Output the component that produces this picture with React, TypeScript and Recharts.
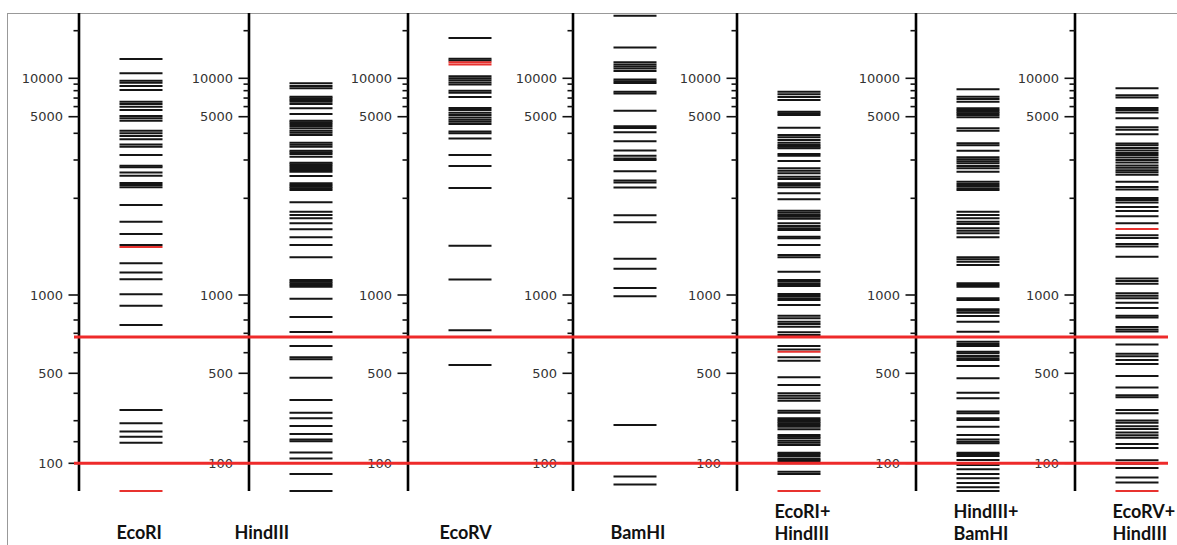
import React from "react";
import { ScatterChart, Scatter, XAxis, YAxis, ReferenceLine } from "recharts";

// Gel calibration (size in bp -> migration distance)
const CAL_BP = [26000, 20000, 10000, 5000, 4000, 3000, 2000, 1000, 900, 800, 700, 600, 500, 400, 300, 200, 100, 50];
const CAL_MIG = [0, 17.7, 65.3, 103.7, 120.3, 147, 185.3, 282, 290.3, 307, 320.3, 339.7, 360.3, 380.3, 407.7, 428.7, 450.3, 478];

const TICK_BP = [20000, 10000, 9000, 8000, 7000, 6000, 5000, 4000, 3000, 2000, 1000, 900, 800, 700, 600, 500, 400, 300, 200, 100];
const LABELED_BP = [10000, 5000, 1000, 500, 100];
const MARKER_BP = [680, 100];

const LANE_NAMES = [["EcoRI"], ["HindIII"], ["EcoRV"], ["BamHI"], ["EcoRI+", "HindIII"], ["HindIII+", "BamHI"], ["EcoRV+", "HindIII"]];

const ECORI = [13250, 10750, 9580, 9240, 8700, 8100, 6560, 6290, 5990, 5640, 5060, 4890, 4740, 4140, 4000, 3885, 3750, 3550, 3460, 3170, 2825, 2780, 2630, 2540, 2350, 2300, 2250, 1906, 1690, 1548, 1430, 1255, 1174, 1119, 1005, 885, 761, 336, 285, 243, 220, 194];
const ECORI_RED = [1410, 50];

const HINDIII = [9137, 8700, 8350, 7175, 6970, 6758, 6557, 6289, 5820, 5250, 4738, 4638, 4532, 4413, 4278, 4143, 4030, 3927, 3614, 3538, 3462, 3316, 3259, 3200, 3109, 2915, 2867, 2815, 2756, 2699, 2650, 2533, 2345, 2303, 2261, 2223, 2184, 1943, 1817, 1774, 1733, 1672, 1601, 1512, 1431, 1310, 1113, 1100, 1087, 1074, 1061, 954, 817, 709, 633, 576, 566, 476, 373, 326, 308, 271, 232, 209, 202, 141, 117, 76.5, 50];
const HINDIII_RED: number[] = [];

const ECORV = [17960, 13280, 12940, 10320, 10010, 9645, 9287, 8956, 7995, 7711, 7149, 5852, 5640, 5368, 5166, 4940, 4803, 4669, 4538, 4098, 4005, 3786, 3166, 2812, 2233, 1423, 1117, 721, 538];
const ECORV_RED = [12620, 12240];

const BAMHI = [25000, 15680, 12620, 12240, 11890, 11540, 11140, 9768, 9473, 9186, 7850, 7614, 5570, 4394, 4296, 4060, 3674, 3323, 3143, 3048, 3003, 2662, 2412, 2366, 2242, 1772, 1686, 1297, 1206, 1052, 985, 276, 72, 59];
const BAMHI_RED: number[] = [];

const ECORI_HINDIII = [7850, 7490, 7134, 6758, 5470, 5315, 5155, 4313, 3927, 3831, 3721, 3615, 3526, 3462, 3403, 3200, 3142, 2968, 2748, 2679, 2606, 2514, 2453, 2344, 2303, 2247, 2109, 1986, 1830, 1804, 1774, 1753, 1728, 1672, 1640, 1613, 1594, 1519, 1502, 1431, 1332, 1310, 1182, 1113, 1100, 1082, 1067, 1007, 987, 959, 938, 889, 825, 810, 786, 768, 748, 707, 691, 633, 615, 576, 559, 478, 439, 400, 390, 380, 370, 333, 326, 308, 302, 294, 285, 276, 267, 254, 228, 220, 214, 204, 194, 180, 140, 135, 126, 117, 111, 105, 100, 81, 76.5];
const ECORI_HINDIII_RED = [605, 50];

const HINDIII_BAMHI = [8198, 7175, 6883, 6557, 5820, 5640, 5470, 5315, 5155, 4960, 4278, 4143, 3591, 3515, 3316, 3088, 3023, 2959, 2897, 2815, 2748, 2650, 2384, 2327, 2278, 2223, 2184, 1817, 1774, 1733, 1691, 1664, 1613, 1586, 1556, 1512, 1310, 1292, 1270, 1240, 1087, 1074, 1061, 959, 938, 863, 854, 842, 823, 786, 711, 655, 643, 633, 605, 597, 583, 571, 562, 533, 473, 403, 380, 330, 324, 308, 302, 267, 228, 209, 200, 190, 140, 135, 126, 111, 96, 86, 76.5, 69, 61, 55, 50];
const HINDIII_BAMHI_RED: number[] = [];

const ECORV_HINDIII = [8364, 7369, 7058, 5852, 5640, 5395, 4893, 4336, 4193, 3957, 3580, 3515, 3410, 3323, 3238, 3166, 3085, 3003, 2919, 2833, 2762, 2693, 2634, 2568, 2384, 2257, 2193, 2009, 1976, 1942, 1880, 1825, 1758, 1673, 1534, 1504, 1442, 1417, 1316, 1126, 1106, 1084, 1012, 990, 959, 906, 871, 825, 814, 746, 728, 713, 641, 595, 581, 563, 543, 485, 427, 392, 384, 336, 324, 301, 288, 269, 255, 239, 226, 216, 186, 163, 110, 99, 89, 70, 62];
const ECORV_HINDIII_RED = [1604, 50];

const LANES = [
  { black: ECORI, red: ECORI_RED },
  { black: HINDIII, red: HINDIII_RED },
  { black: ECORV, red: ECORV_RED },
  { black: BAMHI, red: BAMHI_RED },
  { black: ECORI_HINDIII, red: ECORI_HINDIII_RED },
  { black: HINDIII_BAMHI, red: HINDIII_BAMHI_RED },
  { black: ECORV_HINDIII, red: ECORV_HINDIII_RED },
];

// layout / style
const AXIS_X = [79, 249, 408, 573, 737, 916, 1075];
const LABEL_DX = [0, -52, -6, 0, 0, 0, 0];
const AXIS_W = 70;
const PLOT_W = 124;
const CHART_H = 545;
const TOP = 13;
const XAXIS_H = 54;
const MIG_MAX = 478;
const BAND_W = 43;
const RED = "#e8322f";
const BLACK = "#151515";

function migration(bp: number): number {
  const l = Math.log(bp);
  const n = CAL_BP.length;
  for (let i = 0; i < n - 1; i++) {
    if (bp >= CAL_BP[i + 1] || i === n - 2) {
      const a = Math.log(CAL_BP[i]);
      const b = Math.log(CAL_BP[i + 1]);
      const t = (a - l) / (a - b);
      return CAL_MIG[i] + t * (CAL_MIG[i + 1] - CAL_MIG[i]);
    }
  }
  return 0;
}

const TICK_MIG = TICK_BP.map(migration);

const Band = (props: any) => {
  const { cx, cy, payload } = props;
  if (cx == null || cy == null) return null;
  return (
    <line
      x1={cx - BAND_W / 2}
      x2={cx + BAND_W / 2}
      y1={cy}
      y2={cy}
      stroke={payload.red ? RED : BLACK}
      strokeWidth={2}
    />
  );
};

const Nothing = () => null;

const GelTick = (props: any) => {
  const { x, y, payload } = props;
  const idx = TICK_MIG.findIndex((m) => Math.abs(m - payload.value) < 1e-6);
  const bp = TICK_BP[idx];
  const major = LABELED_BP.includes(bp);
  const len = major ? 10.5 : 5.5;
  return (
    <g>
      <line x1={x - len} x2={x} y1={y} y2={y} stroke="#111" strokeWidth={1.6} />
      {major && (
        <text x={x - 16} y={y} dy="0.36em" textAnchor="end" fontFamily="DejaVu Sans, Verdana, sans-serif" fontSize={13} fill="#333">
          {bp}
        </text>
      )}
    </g>
  );
};

const makeLaneTick = (lines: string[], dx: number) => (props: any) => {
  const { x } = props;
  const x0 = x - BAND_W / 2 - 3 + dx;
  const base = TOP + MIG_MAX;
  if (lines.length === 1) {
    return (
      <text x={x0} y={base + 48} textAnchor="start" fontFamily="Lato, sans-serif" fontWeight={700} fontSize={18} fill="#111">
        {lines[0]}
      </text>
    );
  }
  return (
    <text x={x0} y={base + 27} textAnchor="start" fontFamily="Lato, sans-serif" fontWeight={700} fontSize={18} fill="#111">
      <tspan x={x0} dy={0}>{lines[0]}</tspan>
      <tspan x={x0} dy={22}>{lines[1]}</tspan>
    </text>
  );
};

const Lane = ({ i }: { i: number }) => {
  const lane = LANES[i];
  const data = [
    ...lane.black.map((bp) => ({ x: PLOT_W / 2, y: migration(bp), red: false })),
    ...lane.red.map((bp) => ({ x: PLOT_W / 2, y: migration(bp), red: true })),
  ];
  return (
    <div style={{ position: "absolute", left: AXIS_X[i] - AXIS_W, top: 0 }}>
      <ScatterChart width={AXIS_W + PLOT_W + 6} height={CHART_H} margin={{ top: TOP, right: 6, bottom: 0, left: 0 }}>
        <XAxis
          type="number"
          dataKey="x"
          domain={[0, PLOT_W]}
          ticks={[PLOT_W / 2]}
          interval={0}
          height={XAXIS_H}
          axisLine={false}
          tickLine={false}
          tick={makeLaneTick(LANE_NAMES[i], LABEL_DX[i])}
        />
        <YAxis
          type="number"
          dataKey="y"
          width={AXIS_W}
          domain={[0, MIG_MAX]}
          reversed
          ticks={TICK_MIG}
          interval={0}
          tickLine={false}
          tickSize={0}
          tickMargin={0}
          axisLine={{ stroke: "#000", strokeWidth: 2.6 }}
          tick={<GelTick />}
        />
        <Scatter data={data} shape={<Band />} isAnimationActive={false} />
      </ScatterChart>
    </div>
  );
};

export default function App() {
  const markerData = MARKER_BP.map((bp) => ({ x: 0.5, y: migration(bp) }));
  return (
    <div style={{ position: "fixed", left: 0, top: 0, width: 1177, height: 545, overflow: "hidden", background: "#fff" }}>
      <div style={{ position: "absolute", left: 7, top: 13, width: 1175, height: 540, borderTop: "1px solid #999", borderLeft: "1px solid #999" }} />
      {LANES.map((_, i) => (
        <Lane key={i} i={i} />
      ))}
      <div style={{ position: "absolute", left: 74, top: 0 }}>
        <ScatterChart width={1094} height={CHART_H} margin={{ top: TOP, right: 0, bottom: XAXIS_H, left: 0 }}>
          <XAxis type="number" dataKey="x" domain={[0, 1]} hide />
          <YAxis type="number" dataKey="y" domain={[0, MIG_MAX]} reversed hide />
          <Scatter data={markerData} shape={<Nothing />} isAnimationActive={false} />
          {MARKER_BP.map((bp) => (
            <ReferenceLine key={bp} y={migration(bp)} stroke="#ee2a2a" strokeWidth={3} />
          ))}
        </ScatterChart>
      </div>
    </div>
  );
}
